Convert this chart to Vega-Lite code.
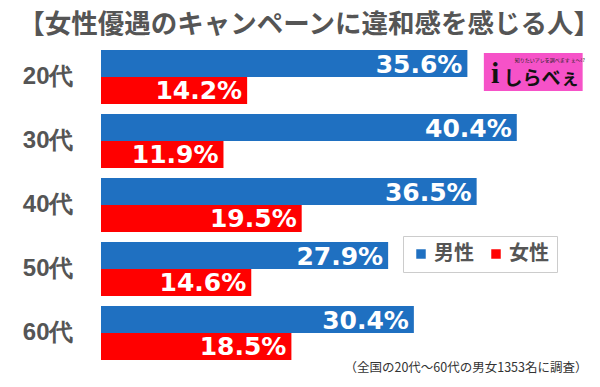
{
  "$schema": "https://vega.github.io/schema/vega-lite/v6.json",
  "width": 494,
  "height": 320,
  "autosize": "none",
  "padding": {"left": 101, "top": 45, "right": 5, "bottom": 22},
  "background": "white",
  "title": {
    "text": "【女性優遇のキャンペーンに違和感を感じる人】",
    "anchor": "start",
    "frame": "bounds",
    "dx": -4,
    "dy": 28,
    "offset": 8,
    "baseline": "bottom",
    "font": "Noto Sans CJK JP",
    "fontSize": 26.5,
    "fontWeight": "bold",
    "color": "#555555"
  },
  "config": {"view": {"stroke": null}},
  "datasets": {
    "bars": [
      {"age": "20代", "gender": "男性", "value": 35.6, "label": "35.6%"},
      {"age": "20代", "gender": "女性", "value": 14.2, "label": "14.2%"},
      {"age": "30代", "gender": "男性", "value": 40.4, "label": "40.4%"},
      {"age": "30代", "gender": "女性", "value": 11.9, "label": "11.9%"},
      {"age": "40代", "gender": "男性", "value": 36.5, "label": "36.5%"},
      {"age": "40代", "gender": "女性", "value": 19.5, "label": "19.5%"},
      {"age": "50代", "gender": "男性", "value": 27.9, "label": "27.9%"},
      {"age": "50代", "gender": "女性", "value": 14.6, "label": "14.6%"},
      {"age": "60代", "gender": "男性", "value": 30.4, "label": "30.4%"},
      {"age": "60代", "gender": "女性", "value": 18.5, "label": "18.5%"}
    ],
    "logo": [
      {"age": "20代", "x1": 37.2, "x2": 46.8, "mark": "i", "tx": 38.3, "name": "しらべぇ", "nx": 42.8, "tag": "知りたいアレを調べます ぇ～!?", "gx": 43.6}
    ]
  },
  "layer": [
    {
      "data": {"name": "bars"},
      "mark": {"type": "bar"},
      "encoding": {
        "x": {
          "field": "value", "type": "quantitative",
          "scale": {"domain": [0, 48], "nice": false, "zero": true},
          "axis": {
            "title": "（全国の20代～60代の男女1353名に調査）",
            "labels": false, "ticks": false, "domain": false, "grid": false,
            "titleX": 486, "titleAlign": "right", "titleAnchor": null,
            "titlePadding": -4,
            "titleFont": "Noto Sans CJK JP",
            "titleFontSize": 12.5, "titleFontWeight": "normal", "titleColor": "#333333"
          }
        },
        "y": {
          "field": "age", "type": "nominal",
          "scale": {"paddingInner": 0.16, "paddingOuter": 0.08},
          "axis": {
            "title": null, "ticks": false, "domain": false, "grid": false,
            "labelPadding": 28,
            "labelFont": "Liberation Sans",
            "labelFontSize": 24, "labelFontWeight": "bold", "labelColor": "#555555"
          }
        },
        "yOffset": {"field": "gender", "type": "nominal", "sort": ["男性", "女性"], "scale": {"paddingInner": 0, "paddingOuter": 0}},
        "color": {
          "field": "gender", "type": "nominal",
          "scale": {"domain": ["男性", "女性"], "range": ["#1f70c1", "#ff0000"]},
          "legend": {
            "title": null,
            "orient": "none",
            "legendX": 302,
            "legendY": 191,
            "direction": "horizontal",
            "strokeColor": "#cccccc",
            "fillColor": "white",
            "padding": 8,
            "symbolType": "square",
            "symbolSize": 90,
            "symbolStrokeWidth": 0,
            "labelFont": "Noto Sans CJK JP",
            "labelFontSize": 20,
            "labelFontWeight": "bold",
            "labelColor": "#555555",
            "columnPadding": 12,
            "labelOffset": 3
          }
        }
      }
    },
    {
      "data": {"name": "bars"},
      "mark": {"type": "text", "align": "right", "baseline": "middle", "dx": -5, "dy": 1, "font": "DejaVu Sans", "fontSize": 25, "fontWeight": "bold", "color": "white"},
      "encoding": {
        "x": {"field": "value", "type": "quantitative"},
        "y": {"field": "age", "type": "nominal"},
        "yOffset": {"field": "gender", "type": "nominal", "sort": ["男性", "女性"]},
        "text": {"field": "label"}
      }
    },
    {
      "data": {"name": "logo"},
      "mark": {"type": "bar", "height": 38, "yOffset": -5, "color": "#f652c8"},
      "encoding": {
        "x": {"field": "x1", "type": "quantitative"},
        "x2": {"field": "x2"},
        "y": {"field": "age", "type": "nominal"}
      }
    },
    {
      "data": {"name": "logo"},
      "mark": {"type": "text", "align": "center", "baseline": "middle", "dy": -3, "font": "Liberation Serif", "fontSize": 30, "fontWeight": "bold", "color": "#111111"},
      "encoding": {
        "x": {"field": "tx", "type": "quantitative"},
        "y": {"field": "age", "type": "nominal"},
        "text": {"field": "mark"}
      }
    },
    {
      "data": {"name": "logo"},
      "mark": {"type": "text", "align": "center", "baseline": "middle", "dy": 2, "font": "Noto Sans CJK JP", "fontSize": 19, "fontWeight": "bold", "color": "#111111"},
      "encoding": {
        "x": {"field": "nx", "type": "quantitative"},
        "y": {"field": "age", "type": "nominal"},
        "text": {"field": "name"}
      }
    },
    {
      "data": {"name": "logo"},
      "mark": {"type": "text", "align": "center", "baseline": "middle", "dy": -17, "font": "Noto Sans CJK JP", "fontSize": 5, "color": "#222222"},
      "encoding": {
        "x": {"field": "gx", "type": "quantitative"},
        "y": {"field": "age", "type": "nominal"},
        "text": {"field": "tag"}
      }
    }
  ]
}
